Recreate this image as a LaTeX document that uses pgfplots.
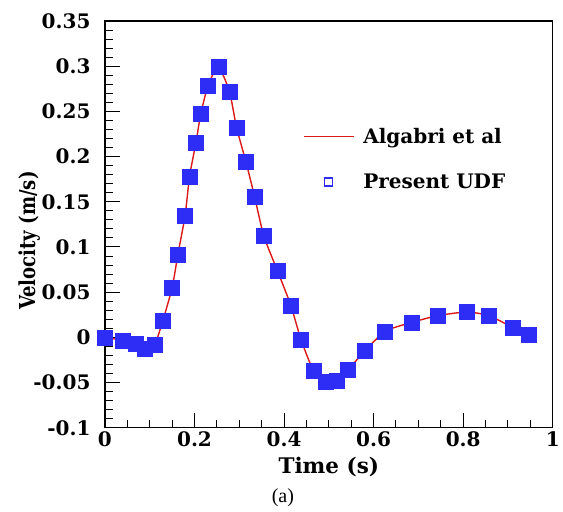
\documentclass[border=0pt]{standalone}
\usepackage{fontspec}
\setmainfont{DejaVu Serif}
\newfontfamily\capfont{Liberation Serif}
\usepackage{graphicx}
\usepackage{pgfplots}
\pgfplotsset{compat=1.18}
\definecolor{udfblue}{RGB}{45,45,245}
\definecolor{linered}{RGB}{220,25,25}

\pgfplotsset{
  longline legend/.style={legend image code/.code={\draw[##1] (0pt,0pt) -- (50pt,0pt);}},
  box legend/.style={legend image code/.code={\draw[##1] (21pt,-4pt) rectangle (29pt,4pt);}},
}

\pgfplotstableread{
t v
0.000 0.0000
0.040 -0.0033
0.068 -0.0070
0.089 -0.0125
0.111 -0.0080
0.129 0.0180
0.150 0.0550
0.163 0.0920
0.179 0.1350
0.189 0.1780
0.203 0.2150
0.214 0.2470
0.230 0.2780
0.253 0.2990
0.278 0.2720
0.294 0.2320
0.315 0.1940
0.334 0.1560
0.355 0.1120
0.385 0.0740
0.415 0.0355
0.438 -0.0026
0.466 -0.0370
0.494 -0.0490
0.518 -0.0480
0.542 -0.0360
0.581 -0.0150
0.625 0.0066
0.685 0.0165
0.743 0.0240
0.808 0.0280
0.857 0.0240
0.911 0.0110
0.947 0.0030
}\udf

\begin{document}
\begin{tikzpicture}
\begin{axis}[
    name=ax,
    scale only axis,
    width=448pt,
    height=407pt,
    xmin=0, xmax=1,
    ymin=-0.1, ymax=0.35,
    xtick={0,0.2,...,1},
    ytick={-0.1,-0.05,...,0.36},
    minor x tick num=3,
    minor y tick num=4,
    xtick pos=bottom,
    ytick pos=left,
    tick align=inside,
    major tick length=15pt,
    minor tick length=8pt,
    every tick/.style={black, line width=1pt},
    axis line style={line width=1.4pt},
    /pgf/number format/assume math mode=true,
    /pgf/number format/fixed,
    /pgf/number format/precision=2,
    ticklabel style={font=\fontsize{20}{22}\selectfont\bfseries},
    yticklabel style={xshift=-11pt},
    xlabel={Time (s)},
    ylabel={\scalebox{0.82}[1]{Velocity (m/s)}},
    xlabel style={font=\fontsize{21.5}{24}\selectfont\bfseries, yshift=-4pt},
    ylabel style={font=\fontsize{22}{24}\selectfont\bfseries, at={(ticklabel cs:0.46)}, yshift=-14pt},
    clip=false,
    legend style={draw=none, fill=none, font=\fontsize{20}{22}\selectfont\bfseries,
        at={(axis cs:0.435,0.236)}, anchor=north west, row sep=25pt},
    legend cell align=left,
]
\addplot[linered, line width=1.4pt, smooth, tension=0.4, longline legend]
    table[x=t,y=v] {\udf};
\addlegendentry{\hspace{7pt}Algabri et al}
\addplot[only marks, mark=square*, mark size=7.5pt, color=udfblue, fill=udfblue, forget plot] table[x=t,y=v] {\udf};
\addlegendimage{draw=udfblue, line width=1.3pt, box legend}
\addlegendentry{\hspace{7pt}Present UDF}
\end{axis}
\node[font=\fontsize{20}{22}\selectfont\capfont, anchor=north, inner ysep=0pt] at ([xshift=-46pt, yshift=-61pt]ax.south) {(a)};
\path ([xshift=-105pt, yshift=-84pt]ax.south west) -- ([xshift=10pt, yshift=21pt]ax.north east);
\end{tikzpicture}
\end{document}
